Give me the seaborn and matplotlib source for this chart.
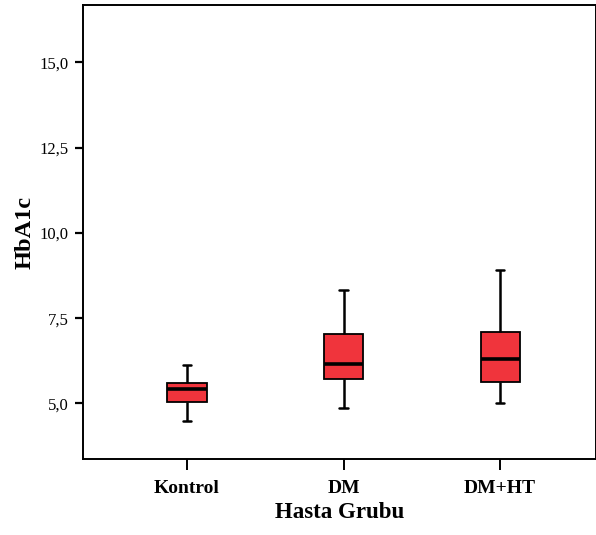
import numpy as np
import pandas as pd
import matplotlib
matplotlib.use("Agg")
import matplotlib.pyplot as plt
import seaborn as sns
from matplotlib.ticker import FuncFormatter

# group labels and five-number summaries
groups = ["Kontrol", "DM", "DM+HT"]
lows = [4.48, 4.88, 5.02]
q1s = [5.05, 5.73, 5.63]
medians = [5.43, 6.17, 6.29]
q3s = [5.59, 7.03, 7.08]
highs = [6.12, 8.32, 8.91]

# five points per group reproduce the box exactly (linear percentiles)
rows = []
for g, lo, a, m, b, hi in zip(groups, lows, q1s, medians, q3s, highs):
    for v in (lo, a, m, b, hi):
        rows.append({"grup": g, "HbA1c": v})
df = pd.DataFrame(rows)

sns.set_style("white")
plt.rcParams["font.family"] = ["Liberation Serif", "DejaVu Serif"]
plt.rcParams["text.color"] = "black"
plt.rcParams["axes.labelcolor"] = "black"

fig = plt.figure(figsize=(5.96, 5.35), dpi=100)
ax = fig.add_axes([0.1388, 0.142, 0.8605, 0.8486])

sns.boxplot(data=df, x="grup", y="HbA1c", order=groups, ax=ax,
            color="#F0343C", saturation=1, width=0.25, whis=(0, 100),
            linecolor="black", linewidth=1.3, fliersize=0,
            medianprops={"linewidth": 2.6, "color": "black"},
            whiskerprops={"linewidth": 1.8},
            capprops={"linewidth": 1.8},
            capwidths=0.055)

ax.set_xlim(-0.666, 2.61)
ax.set_ylim(3.37, 16.68)
ax.set_yticks([5.0, 7.5, 10.0, 12.5, 15.0])
ax.yaxis.set_major_formatter(FuncFormatter(lambda v, p: f"{v:.1f}".replace(".", ",")))

for s in ax.spines.values():
    s.set_visible(True)
    s.set_color("black")
    s.set_linewidth(1.4)

ax.tick_params(axis="y", direction="out", length=6, width=1.6, pad=4,
               labelsize=12, left=True, colors="black")
ax.tick_params(axis="x", direction="out", length=8, width=1.4, pad=7,
               labelsize=14, bottom=True, colors="black")
for lab in ax.get_xticklabels():
    lab.set_fontweight("bold")

ax.set_xlabel("Hasta Grubu", fontsize=16.5, fontweight="bold", labelpad=4)
ax.set_ylabel("HbA1c", fontsize=17.5, fontweight="bold", labelpad=3)

fig.savefig("out.png", dpi=100)
